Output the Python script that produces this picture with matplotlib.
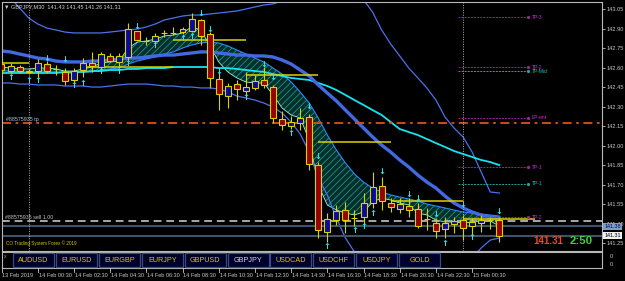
"""GBPJPY M30 terminal snapshot redrawn with matplotlib."""

import matplotlib
matplotlib.use("Agg")
import matplotlib.pyplot as plt
import matplotlib.transforms as mtransforms
from matplotlib.lines import Line2D
from matplotlib.patches import Rectangle
import numpy as np

# ---- candles (bar 0 = 13 Feb 22:30, one bar per 30 min) -----------------
opens = [142.630, 142.575, 142.605, 142.575, 142.575, 142.630, 142.592, 142.568, 142.506, 142.583,
         142.637, 142.606, 142.691, 142.645, 142.683, 142.883, 142.808, 142.806, 142.868, 142.866,
         142.875, 142.883, 142.968, 142.860, 142.514, 142.383, 142.475, 142.422, 142.445, 142.506,
         142.452, 142.206, 142.152, 142.175, 142.222, 141.852, 141.337, 141.429, 141.506, 141.447,
         141.452, 141.560, 141.691, 141.560, 141.514, 141.537, 141.514, 141.440, 141.406, 141.360,
         141.398, 141.429, 141.383, 141.406, 141.430, 141.430]
highs = [142.660, 142.640, 142.620, 142.590, 142.668, 142.650, 142.620, 142.600, 142.600, 142.675,
         142.722, 142.720, 142.715, 142.715, 142.945, 142.885, 142.837, 142.868, 142.890, 142.910,
         142.910, 143.021, 142.975, 142.875, 142.568, 142.480, 142.506, 142.568, 142.545, 142.606,
         142.468, 142.268, 142.229, 142.291, 142.245, 141.875, 141.483, 141.545, 141.568, 141.506,
         141.637, 141.798, 141.760, 141.600, 141.600, 141.600, 141.560, 141.520, 141.445, 141.452,
         141.452, 141.468, 141.445, 141.468, 141.450, 141.450]
lows = [142.560, 142.560, 142.560, 142.555, 142.529, 142.560, 142.545, 142.468, 142.480, 142.529,
        142.568, 142.583, 142.645, 142.606, 142.660, 142.810, 142.775, 142.790, 142.840, 142.850,
        142.860, 142.875, 142.775, 142.445, 142.275, 142.291, 142.352, 142.375, 142.430, 142.445,
        142.175, 142.122, 142.130, 142.122, 141.814, 141.291, 141.260, 141.391, 141.330, 141.383,
        141.400, 141.522, 141.506, 141.490, 141.483, 141.452, 141.368, 141.352, 141.291, 141.291,
        141.330, 141.275, 141.290, 141.337, 141.360, 141.260]
closes = [142.580, 142.615, 142.575, 142.570, 142.637, 142.575, 142.588, 142.498, 142.575, 142.637,
          142.614, 142.706, 142.652, 142.691, 142.898, 142.814, 142.804, 142.845, 142.866, 142.870,
          142.898, 142.975, 142.845, 142.520, 142.400, 142.460, 142.437, 142.452, 142.498, 142.468,
          142.214, 142.160, 142.183, 142.214, 141.860, 141.352, 141.437, 141.498, 141.429, 141.443,
          141.560, 141.683, 141.575, 141.530, 141.552, 141.506, 141.383, 141.435, 141.345, 141.406,
          141.422, 141.368, 141.414, 141.429, 141.428, 141.310]

# ---- indicators, one value per bar ------------------------------------
ma_slow = [142.729, 142.722, 142.706, 142.691, 142.675, 142.668, 142.652, 142.645, 142.645, 142.645,
           142.652, 142.652, 142.660, 142.668, 142.675, 142.675, 142.683, 142.691, 142.698, 142.698,
           142.706, 142.714, 142.722, 142.722, 142.714, 142.706, 142.698, 142.698, 142.691, 142.691,
           142.683, 142.660, 142.629, 142.583, 142.537, 142.468, 142.406, 142.345, 142.275, 142.206,
           142.137, 142.068, 142.006, 141.952, 141.891, 141.837, 141.775, 141.721, 141.675, 141.614,
           141.560, 141.522, 141.491, 141.468, 141.452, 141.445]
ma_cyan = [142.560, 142.560, 142.560, 142.560, 142.560, 142.560, 142.560, 142.568, 142.568, 142.568,
           142.575, 142.575, 142.583, 142.583, 142.591, 142.591, 142.598, 142.598, 142.598, 142.606,
           142.606, 142.606, 142.606, 142.606, 142.598, 142.598, 142.591, 142.583, 142.575, 142.568,
           142.552, 142.537, 142.522, 142.514, 142.506, 142.483, 142.460, 142.429, 142.391, 142.352,
           142.314, 142.275, 142.237, 142.183, 142.129, 142.106, 142.083, 142.052, 142.021, 141.991,
           141.960, 141.937, 141.914, 141.891, 141.875, 141.852]
band_up = [143.214, 143.137, 143.060, 142.983, 142.937, 142.906, 142.891, 142.875, 142.868, 142.868,
           142.868, 142.868, 142.875, 142.883, 142.891, 142.898, 142.914, 142.937, 142.968, 142.983,
           142.998, 143.006, 143.006, 143.014, 143.021, 143.029, 143.037, 143.052, 143.068, 143.083,
           143.091, 143.114, 143.145, 143.183, 143.214, 143.237, 143.245, 143.237, 143.214, 143.168,
           143.122, 143.029, 142.891, 142.783, 142.691, 142.598, 142.522, 142.445, 142.352, 142.222,
           142.137, 142.068, 141.952, 141.798, 141.645, 141.637]
band_dn = [142.483, 142.483, 142.475, 142.475, 142.468, 142.468, 142.468, 142.460, 142.460, 142.460,
           142.452, 142.452, 142.460, 142.468, 142.475, 142.475, 142.475, 142.468, 142.460, 142.460,
           142.452, 142.452, 142.445, 142.445, 142.437, 142.414, 142.383, 142.368, 142.352, 142.329,
           142.298, 142.252, 142.183, 142.091, 141.952, 141.752, 141.622, 141.445, 141.291, 141.183,
           141.083, 141.006, 140.952, 140.906, 140.875, 140.852, 140.845, 140.860, 140.891, 140.952,
           141.006, 141.060, 141.137, 141.214, 141.275, 141.291]
fan_fast = [142.606, 142.598, 142.591, 142.591, 142.598, 142.598, 142.591, 142.575, 142.575, 142.591,
            142.606, 142.637, 142.645, 142.652, 142.752, 142.798, 142.806, 142.821, 142.845, 142.852,
            142.868, 142.914, 142.891, 142.775, 142.645, 142.568, 142.522, 142.491, 142.483, 142.483,
            142.391, 142.291, 142.237, 142.214, 142.045, 141.698, 141.545, 141.506, 141.483, 141.468,
            141.491, 141.568, 141.598, 141.583, 141.560, 141.545, 141.483, 141.468, 141.429, 141.414,
            141.414, 141.406, 141.414, 141.422, 141.422, 141.383]
fan_slow = [142.575, 142.575, 142.568, 142.568, 142.568, 142.568, 142.568, 142.560, 142.560, 142.568,
            142.568, 142.583, 142.591, 142.598, 142.629, 142.652, 142.668, 142.683, 142.706, 142.722,
            142.752, 142.775, 142.791, 142.798, 142.791, 142.768, 142.737, 142.706, 142.675, 142.645,
            142.598, 142.552, 142.491, 142.414, 142.329, 142.214, 142.083, 141.968, 141.868, 141.783,
            141.721, 141.675, 141.645, 141.622, 141.606, 141.591, 141.575, 141.552, 141.537, 141.522,
            141.506, 141.491, 141.483, 141.475, 141.468, 141.460]

# signal arrows: (bar, price)
arrows_down = [(5, 142.675), (7, 142.660), (15, 142.921), (22, 143.014), (23, 142.898), (24, 142.568),
               (29, 142.629), (30, 142.529), (34, 142.306), (35, 141.914), (42, 141.806), (45, 141.629),
               (46, 141.591), (48, 141.475), (51, 141.552), (55, 141.491)]
arrows_up = [(1, 142.529), (3, 142.506), (4, 142.506), (8, 142.460), (9, 142.483), (11, 142.568),
             (13, 142.575), (14, 142.632), (17, 142.775), (20, 142.829), (21, 142.837), (27, 142.368),
             (32, 142.091), (36, 141.229), (39, 141.352), (40, 141.383), (41, 141.483), (49, 141.252),
             (52, 141.298)]

# pivot segments (start bar, end bar, price)
pivot_start = [-5, 9, 19, 27, 35, 43, 51]
pivot_end = [3, 19, 27, 35, 43, 51, 59]
pivot_price = [142.637, 142.608, 142.814, 142.545, 142.029, 141.575, 141.437]

tp_labels = ["TP-3", "TP-2", "TP-Mid", "EP-ent", "TP-1", "TP-1", "TP-2"]
tp_prices = [142.988, 142.604, 142.575, 142.216, 141.835, 141.710, 141.450]
tp_teal = [False, False, True, False, False, True, False]

day_separators = [3, 51]
order_tp = 142.175
order_open = 141.418
ask, bid = 141.38, 141.31

price_ticks = [143.05, 142.90, 142.75, 142.60, 142.45, 142.30, 142.15, 142.00,
               141.85, 141.70, 141.55, 141.40, 141.25]
time_bars = [0, 4, 8, 12, 16, 20, 24, 28, 32, 36, 40, 44, 48, 52]
time_labels = ["13 Feb 2019", "14 Feb 00:30", "14 Feb 02:30", "14 Feb 04:30", "14 Feb 06:30",
               "14 Feb 08:30", "14 Feb 10:30", "14 Feb 12:30", "14 Feb 14:30", "14 Feb 16:30",
               "14 Feb 18:30", "14 Feb 20:30", "14 Feb 22:30", "15 Feb 00:30"]
buttons = ["AUDUSD", "EURUSD", "EURGBP", "EURJPY", "GBPUSD", "GBPJPY",
           "USDCAD", "USDCHF", "USDJPY", "GOLD"]

# ---- figure ---------------------------------------------------------------
W, H = 625, 281
plt.rcParams["font.family"] = ["Liberation Sans", "DejaVu Sans"]
plt.rcParams["hatch.linewidth"] = 0.45

GRAY = "#c8c8c8"
YEL = "#d8d400"
CYAN = "#2ee6e6"
SMALL = 4.0

fig = plt.figure(figsize=(W / 100, H / 100), dpi=100, facecolor="black")
ax = fig.add_axes([2 / W, 1 - 251 / H, 600 / W, 249 / H])
ax.set_facecolor("black")
ax.set_xlim(0.055, 66.35)
ax.set_ylim(141.191, 143.106)
for sp in ax.spines.values():
    sp.set_color("#b8b8b8")
    sp.set_linewidth(0.8)
ax.set_xticks([])
ax.yaxis.tick_right()
ax.set_yticks(price_ticks)
ax.set_yticklabels([f"{p:.2f}" for p in price_ticks])
ax.tick_params(axis="y", colors=GRAY, labelsize=4.1, length=2, width=0.6, pad=1.5)

bars = np.arange(len(opens))
o, h, l, c = map(np.asarray, (opens, highs, lows, closes))

# fan ribbon
ax.fill_between(bars, fan_fast, fan_slow, facecolor="#03302c", edgecolor="#2aae9e",
                hatch="/////", linewidth=0, zorder=1)
ax.plot(bars, fan_fast, color="#8fffe0", lw=0.6, zorder=2)
ax.plot(bars, fan_slow, color="#2a8cff", lw=0.8, zorder=2)

# bands and averages
ax.plot(bars, band_up, color="#4a72ee", lw=0.9, zorder=2)
ax.plot(bars, band_dn, color="#4a72ee", lw=0.9, zorder=2)
ax.plot(bars, ma_cyan, color="#14e4f0", lw=1.3, zorder=2)
ax.plot(bars, ma_slow, color="#4169e1", lw=2.4, zorder=2)

# horizontal levels
ax.axhline(order_tp, color="#d9521c", lw=1.3, ls=(0, (5, 2.5, 1.5, 2.5)), zorder=2)
ax.axhline(order_open, color="#a8a8a8", lw=1.4, ls=(0, (4, 2.5)), zorder=2)
ax.axhline(ask, color="#3e5268", lw=1.5, zorder=2)
ax.axhline(bid, color="#3e5268", lw=1.5, zorder=2)
ax.hlines(pivot_price, pivot_start, pivot_end, color=YEL, lw=1.1, zorder=3)
for b in day_separators:
    ax.axvline(b, color="#b0b0b0", lw=0.7, ls=(0, (1, 1.5)), zorder=2)

# candles
bull = c >= o
ax.vlines(bars, l, h, color=YEL, lw=0.8, zorder=4)
body = np.where(np.abs(c - o) < 0.002, 0.001, c - o)
ax.bar(bars, body, bottom=o, width=0.66,
       color=np.where(bull, "#0a0a9c", "#960000"), edgecolor=YEL, linewidth=0.8, zorder=5)

# arrows
for b, p in arrows_down:
    ax.text(b, p, "↓", color=CYAN, ha="center", va="center", fontsize=6,
            fontweight="bold", family="DejaVu Sans", zorder=6)
for b, p in arrows_up:
    ax.text(b, p, "↑", color=CYAN, ha="center", va="center", fontsize=6,
            fontweight="bold", family="DejaVu Sans", zorder=6)

# take-profit markers
for lab, p, teal in zip(tp_labels, tp_prices, tp_teal):
    lc = "#1aa89c" if teal else "#a0209e"
    tc = "#22c2b4" if teal else "#d02ad0"
    ax.plot([50.4, 58.2], [p, p], color=lc, lw=0.7, ls=(0, (2, 1.2)), zorder=3)
    ax.plot([58.2], [p], marker="o", ms=1.3, color=lc, zorder=3)
    ax.text(58.6, p, lab, color=tc, fontsize=3.5, va="center", ha="left", zorder=6)

# texts inside chart
ax.text(0.004, 0.99, "▼ GBPJPY,M30  141.43 141.45 141.26 141.31", transform=ax.transAxes,
        color="#d0d0d0", fontsize=4.0, va="top", ha="left")
ax.text(0.5, order_tp + 0.01, "#88575935 tp", color="#a8cce8", fontsize=3.8,
        va="bottom", ha="left")
ax.text(0.4, order_open + 0.01, "#88575935 sell 1.00", color="#c8c8c8", fontsize=3.8,
        va="bottom", ha="left")
ax.text(0.007, 0.022, "CO Trading System Forex © 2019", transform=ax.transAxes,
        color="#d8c800", fontsize=3.3, va="bottom", ha="left")
ax.text(0.8855, 0.042, "141.31", transform=ax.transAxes, color="#ff4414", fontsize=7.0,
        fontweight="bold", va="center", ha="left")
ax.text(0.946, 0.042, "2:50", transform=ax.transAxes, color="#3ed23e", fontsize=8.2,
        fontweight="bold", va="center", ha="left")

# price boxes on the right scale
for val, fc, tc in [(ask, "#7a9ec6", "#08083a"), (bid, "#f0f0f0", "#000000")]:
    ax.annotate(f"{val:.2f}", xy=(1.0, val), xycoords=("axes fraction", "data"),
                xytext=(1.6, 0), textcoords="offset points", ha="left", va="center",
                fontsize=3.9, color=tc, annotation_clip=False,
                bbox=dict(boxstyle="square,pad=0.2", fc=fc, ec="none"))

# ---- sub window with symbol buttons ------------------------------------
ax2 = fig.add_axes([2 / W, 1 - 268 / H, 600 / W, 16 / H])
ax2.set_facecolor("black")
ax2.set_xticks([])
ax2.set_yticks([])
for sp in ax2.spines.values():
    sp.set_color("#b8b8b8")
    sp.set_linewidth(0.8)
fig.text(5 / W, 1 - 257 / H, "x", color="#a0a0a0", fontsize=3.5, ha="center", va="center")
for yy in (256, 265):
    fig.text(610 / W, 1 - yy / H, "0", color=GRAY, fontsize=SMALL, ha="left", va="center")

for i, name in enumerate(buttons):
    x0 = 13 + i * 42.9
    fig.add_artist(Rectangle((x0 / W, 1 - 267 / H), 41 / W, 14 / H, transform=fig.transFigure,
                             facecolor="#00002c", edgecolor="#3a4a86", linewidth=0.9))
    fig.text((x0 + 20.5) / W, 1 - 260 / H, name,
             color="#d8d8d8" if name == "GBPJPY" else "#e6c400",
             fontsize=5.2, ha="center", va="center")

# ---- time scale -----------------------------------------------------------
blend = mtransforms.blended_transform_factory(ax.transData, fig.transFigure)
for b, lab in zip(time_bars, time_labels):
    fig.add_artist(Line2D([b, b], [1 - 268 / H, 1 - 271.5 / H], transform=blend,
                          color=GRAY, lw=0.6))
    fig.text(b + 0.1, 1 - 275.5 / H, lab, transform=blend, color=GRAY, fontsize=SMALL,
             ha="left", va="center")

fig.savefig("out.png", dpi=100, facecolor="black")
